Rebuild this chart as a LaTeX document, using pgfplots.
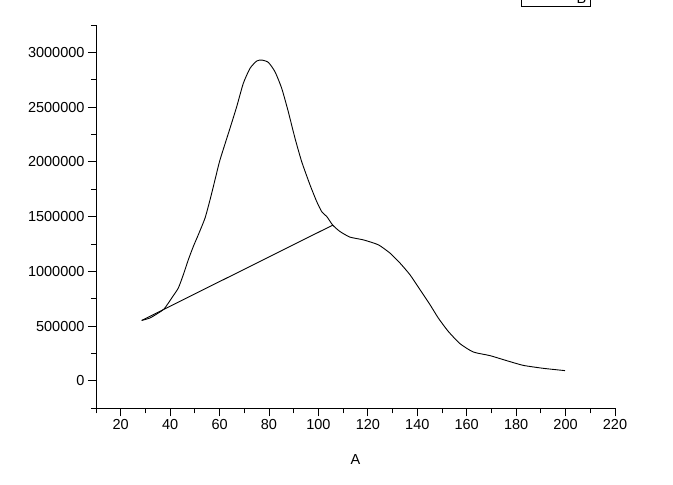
\documentclass[border=0pt]{standalone}
\usepackage{pgfplots}
\pgfplotsset{compat=1.18}
\usepackage{fontspec}
\setmainfont{Liberation Sans}

\begin{document}
\begin{tikzpicture}
\begin{axis}[
    name=ax,
    scale only axis,
    width=519pt, height=383.3pt,
    xmin=10, xmax=220,
    ymin=-250000, ymax=3250000,
    axis x line*=bottom, axis y line*=left,
    x axis line style={-}, y axis line style={-},
    axis line style={line width=0.9pt},
    xtick={20,40,...,220},
    minor xtick={10,30,...,210},
    ytick={0,500000,...,3000000},
    minor ytick={-250000,250000,...,3250000},
    tick align=outside,
    major tick length=8pt, minor tick length=5pt,
    every tick/.style={black, line width=0.9pt},
    scaled y ticks=false,
    /pgf/number format/assume math mode=true,
    yticklabel style={/pgf/number format/.cd, fixed, precision=0, 1000 sep={}},
    tick label style={font=\fontsize{14.5}{17}\selectfont},
    xlabel={A},
    xlabel style={font=\fontsize{14.5}{17}\selectfont, at={(axis description cs:0.5,0)}, anchor=base, yshift=-56pt},
    legend style={at={(0.9532,1.0462)}, anchor=south east, draw=black, line width=0.9pt,
        font=\fontsize{14.5}{17}\selectfont, inner xsep=2pt, inner ysep=0pt},
    legend image code/.code={\draw[line width=0.9pt] (0pt,0pt) -- (50pt,0pt);},
]
% straight segment joining the last and first points of the series
\addplot[black, line width=0.9pt, forget plot] coordinates {
(105.8,1422500) (28.5,552600)
};
\addplot[black, line width=0.9pt, smooth, tension=0.35] coordinates {
(28.5,552600) (31.85,574500) (35.21,620000) (37.64,659000)
(40.63,757000) (43.30,848000) (45.32,969000) (47.35,1106000) (49.37,1227000)
(51.39,1334000) (54.10,1486000) (56.13,1653000) (58.15,1836000) (60.17,2018000)
(64.22,2307000) (66.93,2504000) (69.60,2717000) (72.31,2854000) (75.02,2921000)
(77.05,2930000) (79.72,2909000) (82.43,2823000) (85.14,2672000) (87.81,2458000)
(90.52,2216000) (93.23,2002000) (96.59,1790000) (99.30,1638000) (101.32,1546000)
(103.47,1498000) (105.8,1422500) (108.73,1364000) (112.78,1313000) (118.16,1288000)
(124.23,1243000) (128.96,1167000) (133.01,1076000) (137.05,969000) (141.10,833000)
(145.15,696000) (148.51,574000) (152.55,452000) (157.29,340000) (162.67,264000)
(169.42,231000) (176.18,185000) (182.90,142000) (190.99,115000) (199.77,94000)
};
\addlegendentry{B}
\end{axis}
\pgfresetboundingbox
\path (ax.south west) ++(-96pt,-76.7pt) rectangle ++(673pt,485pt);
\end{tikzpicture}
\end{document}
